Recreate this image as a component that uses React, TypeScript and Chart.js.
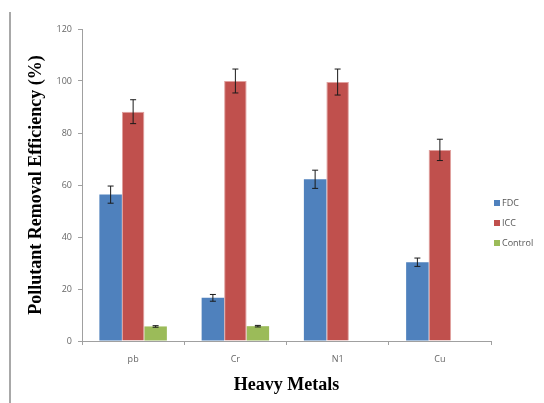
import React, { useEffect, useRef } from "react";
import { Chart, registerables } from "chart.js";

Chart.register(...registerables);

const categories = ["pb", "Cr", "N1", "Cu"];
const fdcValues = [56.3, 16.6, 62.2, 30.3];
const fdcErrors = [3.3, 1.3, 3.5, 1.6];
const iccValues = [88.2, 100, 99.6, 73.5];
const iccErrors = [4.6, 4.6, 5.0, 4.1];
const controlValues: (number | null)[] = [5.6, 5.7, null, null];
const controlErrors = [0.3, 0.3, 0, 0];
const seriesNames = ["FDC", "ICC", "Control"];
const seriesColors = ["#4f81bd", "#c0504d", "#9bbb59"];
const yTicks = [0, 20, 40, 60, 80, 100, 120];

const errorArrays = [fdcErrors, iccErrors, controlErrors];

const errorBarPlugin = {
  id: "errorBars",
  afterDatasetsDraw(chart: any) {
    const ctx = chart.ctx;
    const yScale = chart.scales.y;
    chart.data.datasets.forEach((ds: any, di: number) => {
      const meta = chart.getDatasetMeta(di);
      meta.data.forEach((bar: any, i: number) => {
        const v = ds.data[i];
        const e = errorArrays[di][i];
        if (v == null || !e) return;
        const x = bar.x;
        const yTop = yScale.getPixelForValue(v + e);
        const yBot = yScale.getPixelForValue(v - e);
        ctx.save();
        ctx.strokeStyle = "#1a1a1a";
        ctx.lineWidth = 1;
        ctx.beginPath();
        ctx.moveTo(x, yTop);
        ctx.lineTo(x, yBot);
        ctx.moveTo(x - 3, yTop);
        ctx.lineTo(x + 3, yTop);
        ctx.moveTo(x - 3, yBot);
        ctx.lineTo(x + 3, yBot);
        ctx.stroke();
        ctx.restore();
      });
    });
  },
};

const legendPlugin = {
  id: "customLegend",
  afterDraw(chart: any) {
    const ctx = chart.ctx;
    const area = chart.chartArea;
    const x0 = area.right + 3;
    const yStart = 203;
    ctx.save();
    ctx.font = "9px 'Open Sans', 'Liberation Sans', sans-serif";
    ctx.textBaseline = "middle";
    ctx.textAlign = "left";
    seriesNames.forEach((name, i) => {
      const y = yStart + i * 20;
      ctx.fillStyle = seriesColors[i];
      ctx.fillRect(x0, y - 3, 6, 6);
      ctx.fillStyle = "#555";
      ctx.fillText(name, x0 + 8, y);
    });
    ctx.restore();
  },
};

export default function App() {
  const canvasRef = useRef<HTMLCanvasElement | null>(null);

  useEffect(() => {
    if (!canvasRef.current) return;
    const chart = new Chart(canvasRef.current, {
      type: "bar",
      data: {
        labels: categories,
        datasets: [
          {
            label: seriesNames[0],
            data: fdcValues,
            backgroundColor: seriesColors[0],
            borderColor: "#6a95c9",
            borderWidth: 0,
          },
          {
            label: seriesNames[1],
            data: iccValues,
            backgroundColor: seriesColors[1],
            borderColor: "#e0a09e",
            borderWidth: 1,
          },
          {
            label: seriesNames[2],
            data: controlValues,
            backgroundColor: seriesColors[2],
            borderWidth: 0,
          },
        ],
      },
      options: {
        responsive: false,
        animation: false,
        layout: { padding: { top: 29, right: 53, bottom: 0, left: 0 } },
        plugins: {
          legend: { display: false },
          tooltip: { enabled: false },
        },
        datasets: {
          bar: { categoryPercentage: 0.66, barPercentage: 1 },
        },
        scales: {
          x: {
            afterFit: (scale: any) => {
              scale.height = 62;
            },
            grid: {
              drawOnChartArea: false,
              drawTicks: true,
              tickLength: 4,
              color: "#a0a0a0",
              offset: true,
            },
            border: { display: true, color: "#a0a0a0", width: 1 },
            ticks: {
              color: "#666",
              padding: 9,
              font: { size: 9, family: "'Open Sans', 'Liberation Sans', sans-serif" },
            },
            title: {
              display: true,
              text: "Heavy Metals",
              color: "#000",
              font: { size: 18, weight: "bold", family: "'Liberation Serif', 'DejaVu Serif', serif" },
              padding: { top: 0, bottom: 7 },
            },
          },
          y: {
            min: 0,
            max: 120,
            afterFit: (scale: any) => {
              scale.width = 82;
            },
            afterBuildTicks: (scale: any) => {
              scale.ticks = yTicks.map((v) => ({ value: v }));
            },
            grid: {
              drawOnChartArea: false,
              drawTicks: true,
              tickLength: 4,
              color: "#a0a0a0",
            },
            border: { display: true, color: "#a0a0a0", width: 1 },
            ticks: {
              color: "#666",
              padding: 6,
              font: { size: 9, family: "'Open Sans', 'Liberation Sans', sans-serif" },
            },
            title: {
              display: true,
              text: "Pollutant Removal Efficiency (%)",
              color: "#000",
              font: { size: 18, weight: "bold", family: "'Liberation Serif', 'DejaVu Serif', serif" },
              padding: { top: 26, bottom: 0 },
            },
          },
        },
      },
      plugins: [errorBarPlugin, legendPlugin],
    });
    return () => chart.destroy();
  }, []);

  return (
    <div style={{ position: "fixed", left: 0, top: 0, width: 544, height: 403, background: "#fff" }}>
      <div
        style={{
          position: "absolute",
          left: 9,
          top: 12,
          width: 2,
          height: 391,
          background: "#a8a8a8",
        }}
      />
      <canvas
        ref={canvasRef}
        width={544}
        height={403}
        style={{ position: "absolute", left: 0, top: 0, width: 544, height: 403 }}
      />
    </div>
  );
}
